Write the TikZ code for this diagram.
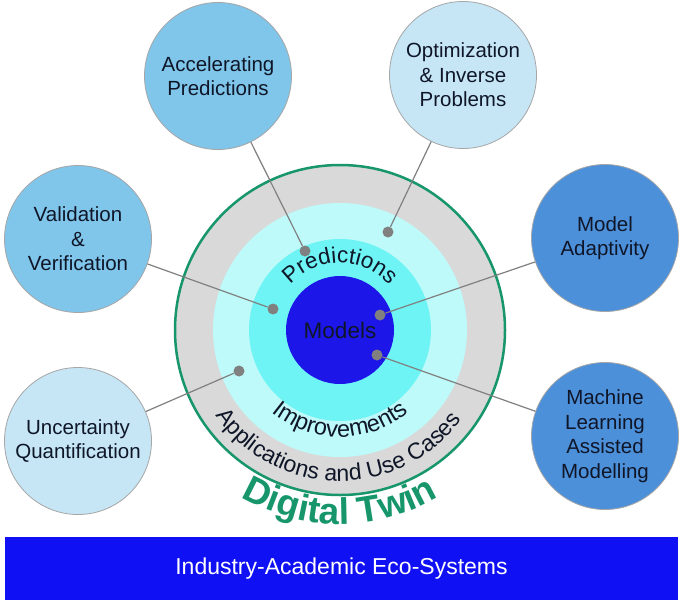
\documentclass[tikz,border=0pt]{standalone}
\usepackage{fontspec}
\setmainfont{Liberation Sans}
\usetikzlibrary{shapes.geometric,decorations.text,calc}
\definecolor{ringgray}{RGB}{217,217,217}
\definecolor{lightcyan}{RGB}{190,250,250}
\definecolor{midcyan}{RGB}{110,244,244}
\definecolor{coreblue}{RGB}{28,22,232}
\definecolor{barblue}{RGB}{16,16,245}
\definecolor{dtgreen}{RGB}{22,150,106}
\definecolor{skyA}{RGB}{128,198,234}
\definecolor{paleB}{RGB}{198,230,246}
\definecolor{deepC}{RGB}{77,144,218}
\definecolor{inkD}{RGB}{15,22,40}
\definecolor{linkgray}{RGB}{128,128,128}
\begin{document}
\begin{tikzpicture}[x=1pt,y=1pt,
  bubble/.style={circle, draw=gray!70, line width=0.8pt, minimum size=147pt,
    inner sep=0pt, align=center, text=inkD,
    font=\fontsize{20.5}{24.5}\selectfont},
  pindot/.style={circle, fill=linkgray, inner sep=0pt, minimum size=11pt},
  link/.style={draw=linkgray, line width=1.2pt},
  ring/.style={circle, inner sep=0pt},
  curved/.style={decorate, decoration={text along path, text align=center, text={#1}}},
]
\fill[white] (0,0) rectangle (685,-605);
\useasboundingbox (0,0) rectangle (685,-605);
\coordinate (C) at (340,-330);

% rings
\node[ring, draw=dtgreen, line width=2.5pt, fill=ringgray, minimum size=330pt] (dt) at (C) {};
\node[ring, fill=lightcyan, minimum size=254pt] (app) at (C) {};
\node[ring, fill=midcyan, minimum size=182pt] (imp) at (C) {};
\node[ring, fill=coreblue, minimum size=108pt, text=inkD,
      font=\fontsize{22.5}{22.5}\selectfont] (models) at (C) {Models};

% curved labels
\path[curved={|\fontsize{22.5}{22.5}\selectfont\color{inkD}|Predictions}]
  ($(C)+(160:67pt)$) arc[start angle=160, end angle=20, radius=67pt];
\path[curved={|\fontsize{23.5}{23.5}\selectfont\color{inkD}|Improvements}]
  ($(C)+(200:107pt)$) arc[start angle=200, end angle=340, radius=107pt];
\path[curved={|\fontsize{23}{23}\selectfont\color{inkD}|Applications and Use Cases}]
  ($(C)+(179:151pt)$) arc[start angle=179, end angle=359, radius=151pt];
\path[curved={|\fontsize{37}{37}\selectfont\bfseries\color{dtgreen}|Digital Twin}]
  ($(C)+(200:194pt)$) arc[start angle=200, end angle=340, radius=194pt];

% outer bubbles
\node[bubble, fill=skyA] (acc) at (218,-76) {Accelerating\\Predictions};
\node[bubble, fill=paleB] (opt) at (463,-75) {Optimization\\\& Inverse\\Problems};
\node[bubble, fill=skyA] (val) at (78,-239) {Validation\\\&\\Verification};
\node[bubble, fill=deepC] (ada) at (605,-238) {Model\\Adaptivity};
\node[bubble, fill=paleB] (unc) at (78,-441) {Uncertainty\\Quantification};
\node[bubble, fill=deepC] (mla) at (605,-436) {Machine\\Learning\\Assisted\\Modelling};

% pins
\node[pindot] (p1) at (305,-251) {};
\node[pindot] (p2) at (388,-232) {};
\node[pindot] (p3) at (273,-309) {};
\node[pindot] (p4) at (380,-315) {};
\node[pindot] (p5) at (377,-355) {};
\node[pindot] (p6) at (239,-371) {};

% connectors
\draw[link] (acc) -- (p1);
\draw[link] (opt) -- (p2);
\draw[link] (val) -- (p3);
\draw[link] (ada) -- (p4);
\draw[link] (mla) -- (p5);
\draw[link] (unc) -- (p6);

% bottom bar
\node[fill=barblue, minimum width=673pt, minimum height=63pt, inner sep=0pt,
      text=white, font=\fontsize{23}{23}\selectfont] (bar) at (341.5,-568.5)
      {Industry-Academic Eco-Systems};
\end{tikzpicture}
\end{document}
